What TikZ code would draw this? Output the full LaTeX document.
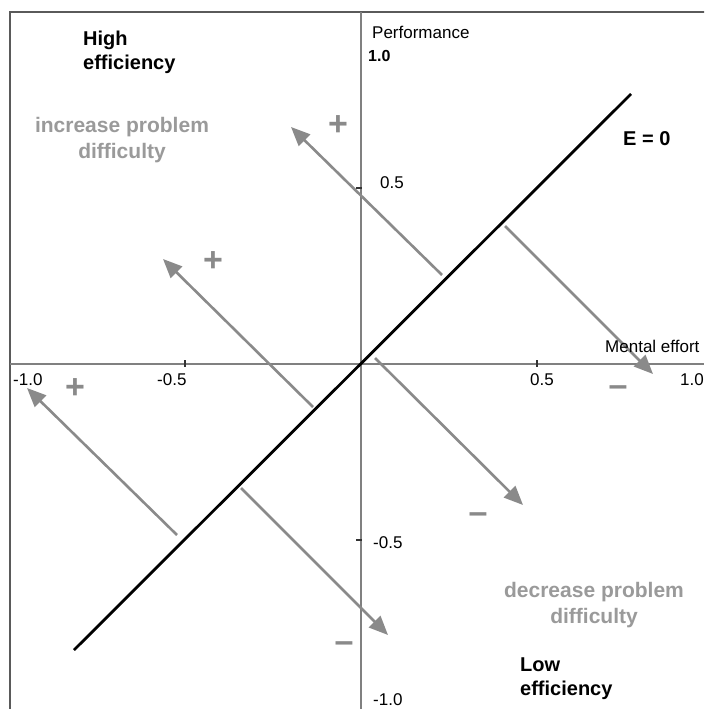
\documentclass[tikz,border=0pt]{standalone}
\usepackage{fontspec}
\setmainfont{Liberation Sans}
\usetikzlibrary{arrows.meta}
\definecolor{framec}{HTML}{5A5A5A}
\definecolor{axisc}{HTML}{808080}
\definecolor{arrowc}{HTML}{8A8A8A}
\definecolor{labelc}{HTML}{9A9A9A}
\tikzset{
  frameline/.style={draw=framec, line width=2pt},
  axisline/.style={draw=axisc, line width=2.2pt},
  tickmark/.style={draw=black!80, line width=1.2pt},
  effline/.style={draw=black, line width=2.8pt},
  move/.style={draw=arrowc, line width=2.6pt, -{Triangle[length=19pt,width=16pt]}},
  sign/.style={text=arrowc, font=\bfseries\fontsize{34}{34}\selectfont, inner sep=0pt, anchor=base},
  region/.style={text=labelc, font=\bfseries\fontsize{21}{26}\selectfont, align=center, inner sep=0pt, anchor=base},
  corner/.style={text=black, font=\bfseries\fontsize{20}{24}\selectfont, align=left, inner sep=0pt, anchor=base west},
  ticklabel/.style={text=black, font=\fontsize{17}{17}\selectfont, inner sep=0pt, anchor=base west},
}
\begin{document}
\begin{tikzpicture}[x=1pt,y=-1pt]
\useasboundingbox (0,0) rectangle (704,709);
\fill[white] (0,0) rectangle (704,709);
\clip (0,0) rectangle (704,709);
% frame
\draw[frameline] (10,12) rectangle (740,740);
% axes
\coordinate (xl) at (10,364);
\coordinate (xr) at (704,364);
\coordinate (yt) at (361,12);
\coordinate (yb) at (361,709);
\draw[axisline] (xl) -- (xr);
\draw[axisline] (yt) -- (yb);
% ticks
\coordinate (tx1a) at (185,360); \coordinate (tx1b) at (185,367);
\coordinate (tx2a) at (537,360); \coordinate (tx2b) at (537,367);
\coordinate (ty1a) at (356,188); \coordinate (ty1b) at (362,188);
\coordinate (ty2a) at (356,540); \coordinate (ty2b) at (362,540);
\draw[tickmark] (tx1a) -- (tx1b);
\draw[tickmark] (tx2a) -- (tx2b);
\draw[tickmark] (ty1a) -- (ty1b);
\draw[tickmark] (ty2a) -- (ty2b);
% E = 0 line
\coordinate (e1) at (74,650);
\coordinate (e2) at (631,94);
\draw[effline] (e1) -- (e2);
% arrows
\coordinate (a1s) at (442,275); \coordinate (a1t) at (291,127);
\coordinate (a2s) at (313,407); \coordinate (a2t) at (163,259);
\coordinate (a3s) at (177,535); \coordinate (a3t) at (27,388);
\coordinate (a4s) at (505,226); \coordinate (a4t) at (653,374);
\coordinate (a5s) at (375,358); \coordinate (a5t) at (523,505);
\coordinate (a6s) at (241,488); \coordinate (a6t) at (388,635);
\draw[move] (a1s) -- (a1t);
\draw[move] (a2s) -- (a2t);
\draw[move] (a3s) -- (a3t);
\draw[move] (a4s) -- (a4t);
\draw[move] (a5s) -- (a5t);
\draw[move] (a6s) -- (a6t);
% signs
\node[sign] (p1) at (338,135) {+};
\node[sign] (p2) at (213,271) {+};
\node[sign] (p3) at (75,398) {+};
\node[sign] (m1) at (618,396) {–};
\node[sign] (m2) at (478,523) {–};
\node[sign] (m3) at (344,652) {–};
% labels (base = baseline of the last line)
\node[corner] (high) at (83,70) {High\\efficiency};
\node[corner] (low) at (520,695) {Low\\efficiency};
\node[region] (inc) at (122,158) {increase problem\\difficulty};
\node[region] (dec) at (594,623) {decrease problem\\difficulty};
\node[text=black, font=\bfseries\fontsize{20}{20}\selectfont, inner sep=0pt, anchor=base west] (eq) at (623,145) {E = 0};
\node[ticklabel] (perf) at (372,38) {Performance};
\node[ticklabel, font=\bfseries\fontsize{16}{16}\selectfont] (y10) at (368,62) {1.0};
\node[ticklabel] (y05) at (380,188) {0.5};
\node[ticklabel] (ym05) at (373,548) {-0.5};
\node[ticklabel] (ym10) at (373,705) {-1.0};
\node[ticklabel] (ment) at (605,352) {Mental effort};
\node[ticklabel] (xm10) at (13,385) {-1.0};
\node[ticklabel] (xm05) at (157,385) {-0.5};
\node[ticklabel] (x05) at (530,385) {0.5};
\node[ticklabel] (x10) at (680,385) {1.0};
\end{tikzpicture}
\end{document}
